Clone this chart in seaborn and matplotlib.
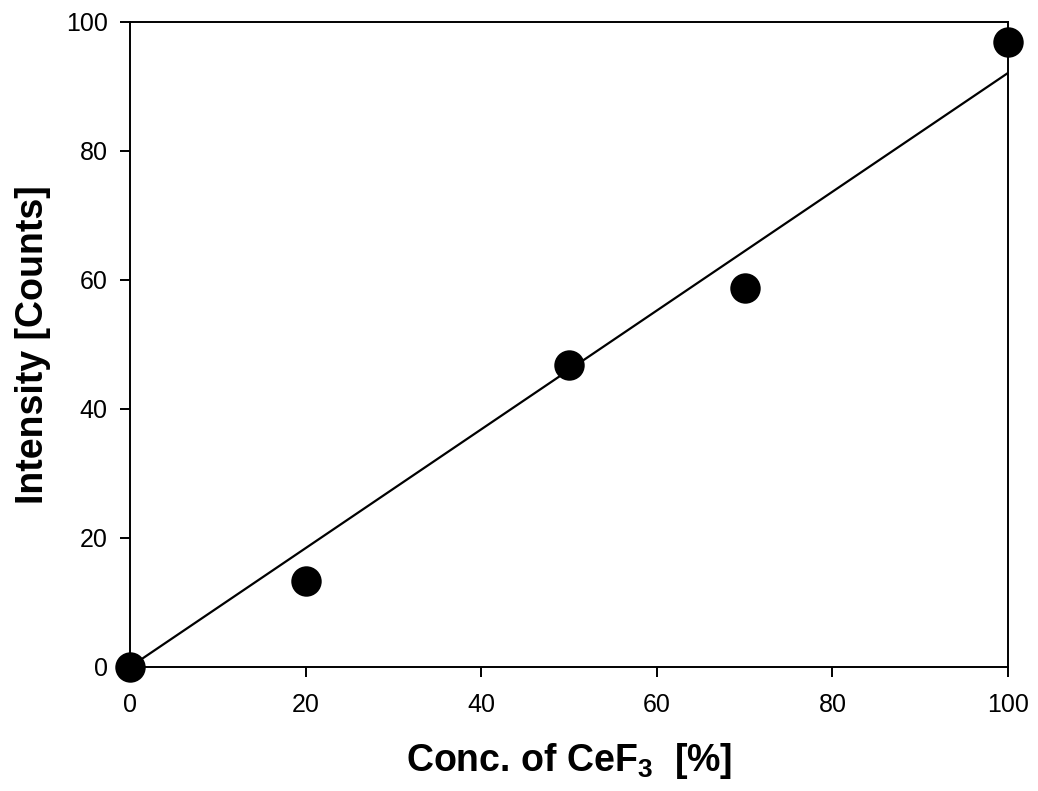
import matplotlib
matplotlib.use("Agg")
import matplotlib.pyplot as plt
import pandas as pd
import seaborn as sns

# measured points
conc = [0, 20, 50, 70, 100]
intensity = [0.0, 13.3, 46.8, 58.8, 96.9]
# linear fit through origin (end points)
fit_conc = [0, 100]
fit_intensity = [0.0, 92.1]

df = pd.DataFrame({"conc": conc, "intensity": intensity})
fit = pd.DataFrame({"conc": fit_conc, "intensity": fit_intensity})

sns.set_style("ticks")
plt.rcParams["font.family"] = ["Liberation Sans", "DejaVu Sans"]
plt.rcParams["mathtext.fontset"] = "custom"
plt.rcParams["mathtext.rm"] = "Liberation Sans:bold"
plt.rcParams["mathtext.bf"] = "Liberation Sans:bold"
plt.rcParams["text.color"] = "black"
plt.rcParams["axes.labelcolor"] = "black"

fig = plt.figure(figsize=(10.38, 7.91), dpi=100)
ax = fig.add_axes([0.1252, 0.1568, 0.8459, 0.8154])

sns.lineplot(data=fit, x="conc", y="intensity", ax=ax, color="black", linewidth=1.6, zorder=2)
sns.scatterplot(data=df, x="conc", y="intensity", ax=ax, color="black", s=480,
                edgecolor="black", linewidth=0, zorder=3, clip_on=False)

ax.set_xlim(0, 100)
ax.set_ylim(0, 100)
ax.set_xticks([0, 20, 40, 60, 80, 100])
ax.set_yticks([0, 20, 40, 60, 80, 100])
for s in ax.spines.values():
    s.set_linewidth(1.4)
    s.set_color("black")
ax.tick_params(direction="out", length=7, width=1.4, labelsize=18, colors="black")
ax.tick_params(axis="x", pad=12)
ax.tick_params(axis="y", pad=9)

ax.set_xlabel(r"Conc. of CeF$_{3}$  [%]", fontsize=27, fontweight="bold", labelpad=17)
ax.set_ylabel("Intensity [Counts]", fontsize=27, fontweight="bold", labelpad=11)

fig.savefig("out.png", dpi=100)
